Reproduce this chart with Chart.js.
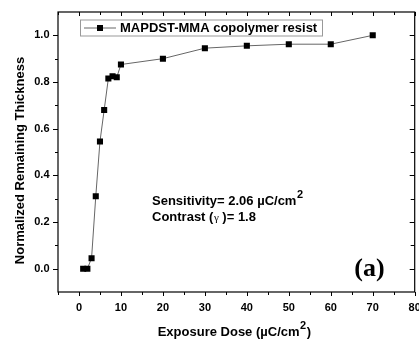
<!DOCTYPE html>
<html>
<head>
<meta charset="utf-8">
<script src="https://cdn.jsdelivr.net/npm/chart.js@4.4.0/dist/chart.umd.min.js"></script>
<style>
html, body { margin: 0; padding: 0; background: #fff; }
#wrap { width: 419px; height: 343px; }
</style>
</head>
<body>
<div id="wrap"><canvas id="resistChart"></canvas></div>
<script>
// exposure dose (uC/cm2) and normalized remaining thickness
var doses = [1, 2, 3, 4, 5, 6, 7, 8, 9, 10, 20, 30, 40, 50, 60, 70];
var thickness = [0, 0, 0.045, 0.31, 0.545, 0.68, 0.815, 0.825, 0.82, 0.875, 0.9, 0.945, 0.955, 0.962, 0.962, 1.0];

var xTickValues = [0, 10, 20, 30, 40, 50, 60, 70, 80];
var yTickValues = [0, 0.2, 0.4, 0.6, 0.8, 1.0];

var seriesName = "MAPDST-MMA copolymer resist";
var xTitle = "Exposure Dose (µC/cm";
var yTitle = "Normalized Remaining Thickness";
var sensitivityText = "Sensitivity= 2.06 µC/cm";
var contrastText = ["Contrast (", "γ", " )= 1.8"];
var panelLabel = "(a)";

var sans = "Arial, 'Liberation Sans', sans-serif";
var serif = "'Times New Roman', 'Liberation Serif', serif";

var points = doses.map(function (d, i) {
    return { x: d, y: thickness[i] };
});

// frame, tick marks, legend box, titles and notes
var decorations = {
    id: "decorations",
    afterDraw: function (chart) {
        var ctx = chart.ctx;
        var a = chart.chartArea;
        var xs = chart.scales.x;
        var ys = chart.scales.y;
        ctx.save();

        ctx.strokeStyle = "#000";
        ctx.lineWidth = 1.2;
        ctx.strokeRect(a.left, a.top, a.right - a.left, a.bottom - a.top);

        ctx.lineWidth = 1;
        ctx.beginPath();
        for (var v = -5; v <= 80; v += 5) {
            var px = Math.round(xs.getPixelForValue(v)) + 0.5;
            var major = v % 10 === 0;
            ctx.moveTo(px, a.bottom);
            ctx.lineTo(px, a.bottom + (major ? 4 : 3));
            ctx.moveTo(px, a.top);
            ctx.lineTo(px, a.top + (major ? 4 : 3));
        }
        for (var k = 0; k <= 10; k++) {
            var py = Math.round(ys.getPixelForValue(k / 10)) + 0.5;
            var maj = k % 2 === 0;
            ctx.moveTo(a.left, py);
            ctx.lineTo(a.left - (maj ? 5 : 3), py);
            ctx.moveTo(a.right, py);
            ctx.lineTo(a.right - (maj ? 5 : 4), py);
        }
        ctx.stroke();

        // legend
        var lx = a.left + 22, ly = a.top + 7.5;
        ctx.strokeStyle = "#999";
        ctx.strokeRect(lx + 0.5, ly + 0.5, 242, 16);
        ctx.strokeStyle = "#666";
        ctx.beginPath();
        ctx.moveTo(lx + 4, ly + 8.5);
        ctx.lineTo(lx + 36, ly + 8.5);
        ctx.stroke();
        ctx.fillStyle = "#000";
        ctx.fillRect(lx + 17, ly + 5.5, 6, 6);
        ctx.font = "bold 13px " + sans;
        ctx.textBaseline = "middle";
        ctx.textAlign = "left";
        ctx.fillText(seriesName, lx + 40, ly + 9);

        // notes
        ctx.textBaseline = "alphabetic";
        var nx = xs.getPixelForValue(17.4);
        var ny1 = ys.getPixelForValue(0.272);
        var ny2 = ys.getPixelForValue(0.206);
        ctx.font = "bold 13px " + sans;
        ctx.fillText(sensitivityText, nx, ny1);
        var sw = ctx.measureText(sensitivityText).width;
        ctx.font = "bold 11px " + sans;
        ctx.fillText("2", nx + sw + 0.5, ny1 - 7);

        ctx.font = "bold 13px " + sans;
        ctx.fillText(contrastText[0], nx, ny2);
        var cx = nx + ctx.measureText(contrastText[0]).width;
        ctx.font = "11px " + serif;
        ctx.fillText(contrastText[1], cx + 0.5, ny2);
        cx += ctx.measureText(contrastText[1]).width + 0.5;
        ctx.font = "bold 13px " + sans;
        ctx.fillText(contrastText[2], cx, ny2);

        ctx.font = "bold 26px " + serif;
        ctx.fillText(panelLabel, xs.getPixelForValue(65.6), ys.getPixelForValue(-0.03));

        // axis titles
        ctx.font = "bold 13px " + sans;
        var tw = ctx.measureText(xTitle).width;
        ctx.font = "bold 11px " + sans;
        var supW = ctx.measureText("2").width;
        ctx.font = "bold 13px " + sans;
        var closeW = ctx.measureText(")").width;
        var total = tw + supW + closeW + 1;
        var tx = (a.left + a.right) / 2 - total / 2 - 2;
        var tyBase = 336;
        ctx.fillText(xTitle, tx, tyBase);
        ctx.font = "bold 11px " + sans;
        ctx.fillText("2", tx + tw + 0.5, tyBase - 7);
        ctx.font = "bold 13px " + sans;
        ctx.fillText(")", tx + tw + supW + 1, tyBase);

        ctx.translate(20, 160.5);
        ctx.rotate(-Math.PI / 2);
        ctx.textAlign = "center";
        ctx.textBaseline = "middle";
        ctx.fillText(yTitle, 0, 0);

        ctx.restore();
    },
};

new Chart("resistChart", {
    type: "scatter",
    data: {
        datasets: [
            {
                label: seriesName,
                data: points,
                showLine: true,
                borderColor: "#666",
                borderWidth: 1,
                pointStyle: "rect",
                pointRadius: 4.3,
                pointBackgroundColor: "#000",
                pointBorderColor: "#000",
                pointBorderWidth: 0,
            },
        ],
    },
    options: {
        responsive: true,
        maintainAspectRatio: false,
        animation: false,
        layout: {
            padding: { top: 12, right: 2, left: 0, bottom: 0 },
        },
        plugins: {
            legend: { display: false },
            tooltip: { enabled: false },
        },
        scales: {
            x: {
                type: "linear",
                min: -5,
                max: 80,
                grid: { display: false, drawTicks: false },
                border: { display: false },
                ticks: {
                    padding: 9,
                    color: "#000",
                    font: { family: sans, size: 11, weight: "bold" },
                },
                afterBuildTicks: function (scale) {
                    scale.ticks = xTickValues.map(function (v) {
                        return { value: v };
                    });
                },
                afterFit: function (scale) {
                    scale.height = 51;
                    scale.paddingLeft = 0;
                    scale.paddingRight = 0;
                },
            },
            y: {
                type: "linear",
                min: -0.1,
                max: 1.1,
                grid: { display: false, drawTicks: false },
                border: { display: false },
                ticks: {
                    padding: 8.5,
                    color: "#000",
                    font: { family: sans, size: 11, weight: "bold" },
                    callback: function (value) {
                        return value.toFixed(1);
                    },
                },
                afterBuildTicks: function (scale) {
                    scale.ticks = yTickValues.map(function (v) {
                        return { value: v };
                    });
                },
                afterFit: function (scale) {
                    scale.width = 58;
                    scale.paddingTop = 0;
                    scale.paddingBottom = 0;
                },
            },
        },
    },
    plugins: [decorations],
});
</script>
</body>
</html>
